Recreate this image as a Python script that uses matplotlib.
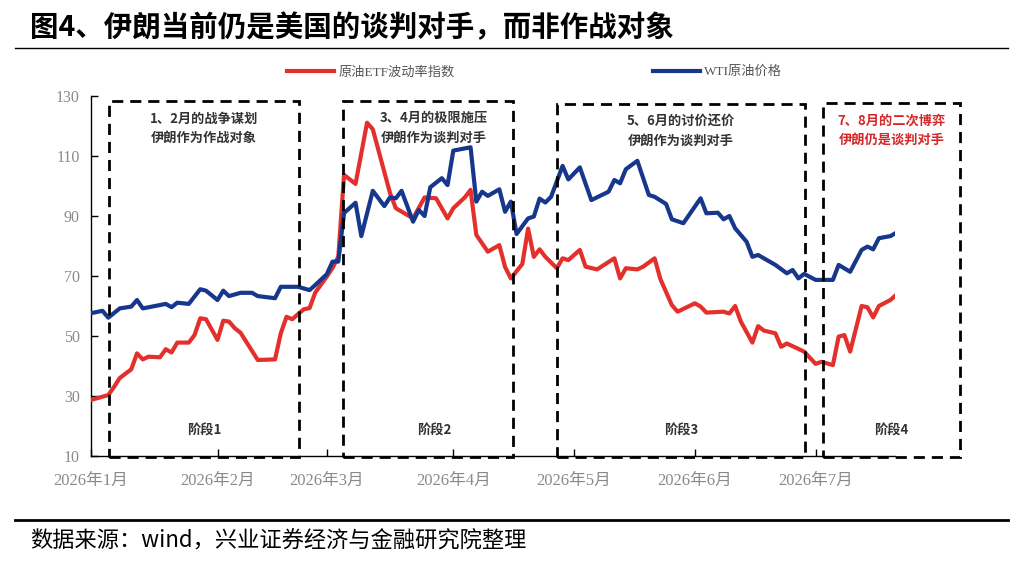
import matplotlib
matplotlib.use('Agg')
import matplotlib.pyplot as plt
from matplotlib.patches import Rectangle
from matplotlib.lines import Line2D

plt.rcParams['font.family'] = ['Noto Sans CJK SC', 'DejaVu Sans']
SERIF = ['Liberation Serif', 'Noto Sans CJK SC']

# 交易日序号（从2026年1月初起）与对应读数
wti_day = [0, 2, 3, 5, 7, 8, 9, 13, 14, 15, 17, 19, 20, 22, 23, 24, 26, 28, 29, 32, 33, 36, 38, 39,
           41, 42, 43, 44, 46, 47, 49, 51, 52, 53, 54, 56, 57, 58, 59, 61, 62, 63, 66, 67, 68, 69,
           71, 72, 73, 74, 76, 77, 78, 79, 80, 82, 83, 85, 87, 90, 91, 92, 93, 95, 97, 98, 100, 101,
           103, 106, 107, 109, 110, 111, 112, 114, 115, 116, 119, 121, 122, 123, 124, 126, 129, 130,
           132, 134, 135, 136, 137, 139, 140]
wti_price = [57.6, 58.4, 56.1, 59.2, 59.8, 62.0, 59.2, 60.7, 59.6, 61.1, 60.7, 65.6, 65.1, 62.0, 65.1,
             63.3, 64.4, 64.4, 63.3, 62.6, 66.4, 66.4, 65.3, 67.0, 70.6, 74.8, 74.8, 91.0, 94.4, 83.3,
             98.4, 93.3, 96.2, 95.9, 98.4, 88.1, 92.0, 90.0, 99.6, 102.6, 100.3, 111.8, 112.9, 94.8,
             98.1, 96.7, 98.9, 91.4, 94.8, 84.0, 89.2, 89.8, 95.8, 94.5, 96.4, 106.7, 102.2, 106.2,
             95.3, 98.1, 102.0, 100.9, 105.6, 108.4, 97.0, 96.4, 94.0, 88.9, 87.6, 95.9, 90.9, 91.1,
             88.9, 90.0, 85.9, 81.4, 76.4, 77.0, 73.7, 70.9, 72.0, 69.2, 70.7, 68.7, 68.7, 73.7, 71.4,
             78.7, 79.8, 78.9, 82.6, 83.3, 84.4]

ovx_day = [0, 3, 4, 5, 7, 8, 9, 10, 12, 13, 14, 15, 17, 18, 19, 20, 22, 23, 24, 25, 26, 29, 32, 33,
           34, 35, 36, 37, 38, 39, 41, 42, 43, 44, 46, 48, 49, 52, 53, 56, 58, 60, 62, 63, 65, 66,
           67, 69, 71, 72, 73, 75, 76, 77, 78, 79, 81, 82, 83, 85, 86, 88, 91, 92, 93, 95, 96, 98,
           99, 101, 102, 105, 106, 107, 110, 111, 112, 113, 115, 116, 117, 119, 120, 121, 124, 126,
           127, 129, 130, 131, 132, 134, 135, 136, 137, 139, 140]
ovx_index = [28.7, 30.3, 33.0, 36.0, 38.9, 44.2, 42.2, 43.1, 42.9, 45.6, 44.5, 47.8, 47.8, 50.3, 55.9,
             55.6, 48.7, 55.1, 54.8, 52.6, 51.1, 42.0, 42.2, 50.9, 56.4, 55.6, 57.3, 58.9, 59.3, 64.5,
             69.8, 72.7, 76.4, 103.7, 100.7, 121.1, 118.9, 97.6, 92.6, 89.2, 96.2, 95.9, 89.2, 92.6,
             96.2, 98.7, 83.7, 78.1, 80.3, 73.0, 69.2, 74.0, 85.8, 76.4, 78.9, 76.4, 72.6, 75.9, 75.3,
             78.7, 73.1, 72.2, 75.9, 69.2, 72.6, 72.2, 73.1, 75.9, 69.0, 60.3, 58.1, 60.9, 59.8, 57.8,
             58.1, 57.5, 60.0, 54.8, 47.8, 53.3, 51.8, 50.9, 46.4, 47.5, 44.8, 40.7, 41.4, 40.3, 49.8,
             50.3, 44.8, 60.0, 59.6, 56.2, 60.0, 62.0, 63.7]

month_day = [0, 22, 41, 63, 84, 105, 126]
month_labels = ['2026年1月', '2026年2月', '2026年3月', '2026年4月', '2026年5月', '2026年6月', '2026年7月']
y_ticks = [10, 30, 50, 70, 90, 110, 130]

# 四个阶段：起止交易日、说明文字
stage_start = [3.1, 43.8, 81.0, 127.3]
stage_end = [36.2, 73.4, 124.2, 151.1]
stage_notes = ['1、2月的战争谋划\n伊朗作为作战对象',
               '3、4月的极限施压\n伊朗作为谈判对手',
               '5、6月的讨价还价\n伊朗作为谈判对手',
               '7、8月的二次博弈\n伊朗仍是谈判对手']
stage_names = ['阶段1', '阶段2', '阶段3', '阶段4']


def main():
    fig = plt.figure(figsize=(10.24, 5.62), dpi=100)
    ax = fig.add_axes([91 / 1024, 1 - 456 / 562, 804 / 1024, 360 / 562])

    red = '#E3302C'
    blue = '#17378C'
    ax.plot(ovx_day, ovx_index, color=red, lw=3.0, label='原油ETF波动率指数', zorder=3)
    ax.plot(wti_day, wti_price, color=blue, lw=3.0, label='WTI原油价格', zorder=3)

    ax.set_xlim(0, 139.8)
    ax.set_ylim(10, 130)
    ax.set_yticks(y_ticks)
    ax.set_xticks(month_day)
    ax.set_xticklabels(month_labels)
    for lab in ax.get_xticklabels():
        lab.set_family(SERIF)
        lab.set_fontsize(12)
        lab.set_color('#8a8a8a')
    for lab in ax.get_yticklabels():
        lab.set_family(SERIF)
        lab.set_fontsize(11.5)
        lab.set_color('#8a8a8a')
    ax.tick_params(axis='both', direction='in', length=5, width=1, color='black')
    ax.tick_params(axis='x', pad=12)
    ax.tick_params(axis='y', pad=8)
    for s in ['top', 'right']:
        ax.spines[s].set_visible(False)
    for s in ['left', 'bottom']:
        ax.spines[s].set_linewidth(1.0)

    tops = [128.4, 128.4, 127.3, 127.8]
    shift = [0, 1.0, 0, 0]
    for i in range(4):
        rect = Rectangle((stage_start[i], 9.6), stage_end[i] - stage_start[i], tops[i] - 9.6,
                         fill=False, edgecolor='black', lw=2.0, linestyle=(0, (4, 2.5)),
                         clip_on=False, zorder=4)
        ax.add_patch(rect)
        mid = (stage_start[i] + stage_end[i]) / 2 + shift[i]
        c = '#D62728' if i == 3 else '#333333'
        ax.text(mid, tops[i] - 3.5, stage_notes[i], ha='center', va='top', fontsize=9.5,
                fontweight='bold', color=c, linespacing=1.5, clip_on=False)
        ax.text(mid, 18.5, stage_names[i], ha='center', va='center', fontsize=9.5,
                fontweight='bold', color='#333333', clip_on=False)

    leg = fig.legend(loc='center', bbox_to_anchor=(0.522, 1 - 72 / 562), ncol=2, frameon=False,
                     handlelength=3.6, columnspacing=15, handletextpad=0.3,
                     prop={'family': SERIF, 'size': 9.5})
    for t in leg.get_texts():
        t.set_color('#555555')

    fig.text(30 / 1024, 1 - 28 / 562, '图4、伊朗当前仍是美国的谈判对手，而非作战对象',
             fontsize=20.5, fontweight='bold', va='center', ha='left')
    fig.add_artist(Line2D([15 / 1024, 1008 / 1024], [1 - 48 / 562] * 2, color='black', lw=1.0))
    fig.add_artist(Line2D([15 / 1024, 1008 / 1024], [1 - 520 / 562] * 2, color='black', lw=2.0))
    fig.text(30 / 1024, 1 - 541 / 562, '数据来源：wind，兴业证券经济与金融研究院整理',
             fontsize=16, va='center', ha='left')

    fig.savefig('out.png', dpi=100)


if __name__ == '__main__':
    main()
